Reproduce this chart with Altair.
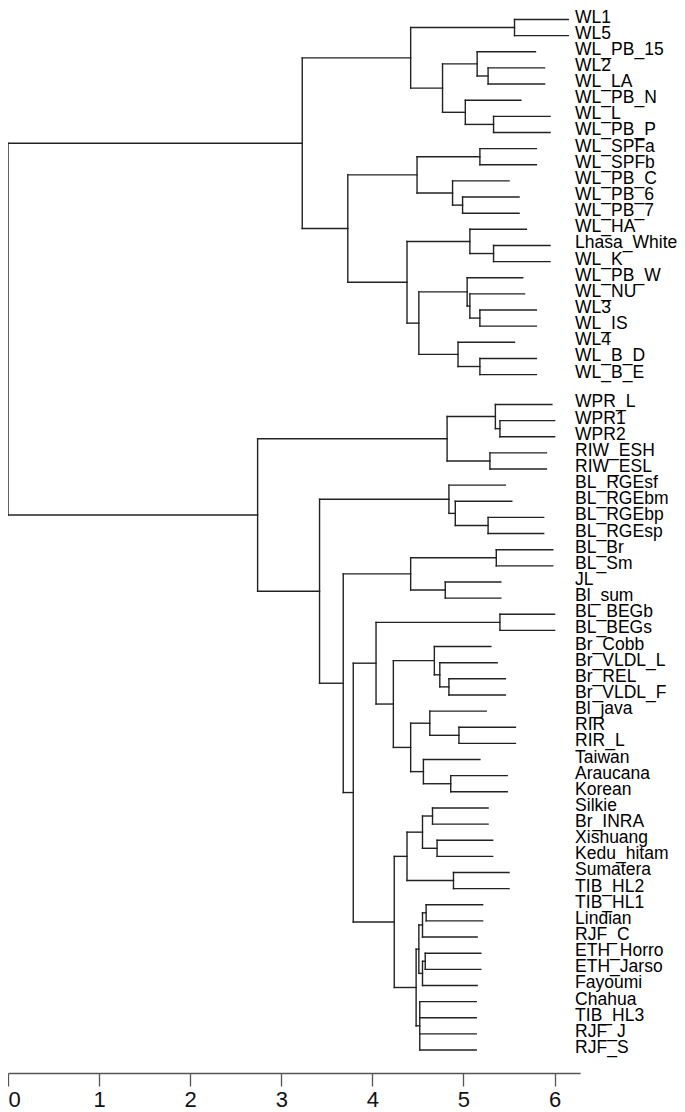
import altair as alt
import pandas as pd

# ---------------- data ----------------
leaf_names = [
    "WL1", "WL5", "WL_PB_15", "WL2", "WL_LA", "WL_PB_N", "WL_L", "WL_PB_P",
    "WL_SPFa", "WL_SPFb", "WL_PB_C", "WL_PB_6", "WL_PB_7", "WL_HA", "Lhasa_White",
    "WL_K", "WL_PB_W", "WL_NU", "WL3", "WL_IS", "WL4", "WL_B_D", "WL_B_E",
    "WPR_L", "WPR1", "WPR2", "RIW_ESH", "RIW_ESL", "BL_RGEsf", "BL_RGEbm",
    "BL_RGEbp", "BL_RGEsp", "BL_Br", "BL_Sm", "JL", "Bl_sum", "BL_BEGb", "BL_BEGs",
    "Br_Cobb", "Br_VLDL_L", "Br_REL", "Br_VLDL_F", "Bl_java", "RIR", "RIR_L",
    "Taiwan", "Araucana", "Korean", "Silkie", "Br_INRA", "Xishuang", "Kedu_hitam",
    "Sumatera", "TIB_HL2", "TIB_HL1", "Lindian", "RJF_C", "ETH_Horro", "ETH_Jarso",
    "Fayoumi", "Chahua", "TIB_HL3", "RJF_J", "RJF_S",
]
leaf_tips = [
    6.15, 6.15, 5.79, 5.89, 5.89, 5.63, 5.95, 5.95,
    5.80, 5.80, 5.50, 5.61, 5.61, 5.69, 5.95,
    5.95, 5.65, 5.67, 5.80, 5.80, 5.56, 5.80, 5.80,
    5.97, 6.00, 6.00, 5.91, 5.91, 5.46, 5.53,
    5.88, 5.88, 5.98, 5.98, 5.41, 5.41, 6.00, 6.00,
    5.30, 5.37, 5.46, 5.46, 5.25, 5.57, 5.57,
    5.18, 5.48, 5.48, 5.27, 5.27, 5.32, 5.32,
    5.50, 5.50, 5.21, 5.21, 5.15, 5.19, 5.19,
    5.15, 5.14, 5.14, 5.14, 5.14,
]
node_names = [
    "root", "A", "A1", "B1", "B2", "C1", "D1", "C2", "D2", "A2", "B3", "C3", "C4",
    "D3", "B4", "C5", "D4", "C6", "D5", "E1", "F1", "D6", "E2",
    "R2", "P1", "Q1", "Q1a", "Q2", "P2", "S1", "T1", "U1", "S2", "V1", "W1", "W2",
    "X2", "V2", "W3", "Z1", "Y1", "Y2", "Y3", "Z2", "Z2a", "Z2b", "Z3", "Z3b",
    "X3", "N1", "N2", "N3", "N4", "N5", "M1", "M2", "M3", "M4", "M5", "M6", "M7",
]
node_heights = [
    0.00, 3.23, 4.42, 5.56, 4.77, 5.15, 5.27, 5.02, 5.33, 3.73, 4.49, 5.18, 4.88,
    4.99, 4.38, 5.07, 5.33, 4.51, 5.04, 5.07, 5.18, 4.94, 5.18,
    2.74, 4.82, 5.35, 5.40, 5.29, 3.42, 4.84, 4.91, 5.27, 3.68, 4.42, 5.36, 4.80,
    3.79, 4.04, 5.40, 4.23, 4.68, 4.74, 4.84, 4.42, 4.63, 4.95, 4.56, 4.86,
    4.24, 4.38, 4.55, 4.66, 4.71, 4.89, 4.48, 4.51, 4.55, 4.59, 4.55, 4.58, 4.52,
]
node_children = [
    ["A", "R2"], ["A1", "A2"], ["B1", "B2"], ["WL1", "WL5"], ["C1", "C2"],
    ["WL_PB_15", "D1"], ["WL2", "WL_LA"], ["WL_PB_N", "D2"], ["WL_L", "WL_PB_P"],
    ["B3", "B4"], ["C3", "C4"], ["WL_SPFa", "WL_SPFb"], ["WL_PB_C", "D3"],
    ["WL_PB_6", "WL_PB_7"], ["C5", "C6"], ["WL_HA", "D4"], ["Lhasa_White", "WL_K"],
    ["D5", "D6"], ["WL_PB_W", "E1"], ["WL_NU", "F1"], ["WL3", "WL_IS"],
    ["WL4", "E2"], ["WL_B_D", "WL_B_E"],
    ["P1", "P2"], ["Q1", "Q2"], ["WPR_L", "Q1a"], ["WPR1", "WPR2"],
    ["RIW_ESH", "RIW_ESL"], ["S1", "S2"], ["BL_RGEsf", "T1"], ["BL_RGEbm", "U1"],
    ["BL_RGEbp", "BL_RGEsp"], ["V1", "X2"], ["W1", "W2"], ["BL_Br", "BL_Sm"],
    ["JL", "Bl_sum"], ["V2", "X3"], ["W3", "Z1"], ["BL_BEGb", "BL_BEGs"],
    ["Y1", "Z2"], ["Br_Cobb", "Y2"], ["Br_VLDL_L", "Y3"], ["Br_REL", "Br_VLDL_F"],
    ["Z2a", "Z3"], ["Bl_java", "Z2b"], ["RIR", "RIR_L"], ["Taiwan", "Z3b"],
    ["Araucana", "Korean"],
    ["N1", "M1"], ["N2", "N5"], ["N3", "N4"], ["Silkie", "Br_INRA"],
    ["Xishuang", "Kedu_hitam"], ["Sumatera", "TIB_HL2"],
    ["M2", "M7"], ["M3", "M5"], ["M4", "RJF_C"], ["TIB_HL1", "Lindian"],
    ["M6", "Fayoumi"], ["ETH_Horro", "ETH_Jarso"],
    ["Chahua", "TIB_HL3", "RJF_J", "RJF_S"],
]
x_ticks = [0, 1, 2, 3, 4, 5, 6]

# ---------------- layout of the tree ----------------
GAP_AFTER = 23   # a wider space separates the two main clades
GAP = 0.85

slot = {n: i + (GAP if i >= GAP_AFTER else 0) for i, n in enumerate(leaf_names)}
tip = dict(zip(leaf_names, leaf_tips))
height = dict(zip(node_names, node_heights))
kids = dict(zip(node_names, node_children))

ypos = {}


def place(n):
    if n in slot:
        ypos[n] = slot[n]
        return ypos[n]
    ys = [place(c) for c in kids[n]]
    ypos[n] = (ys[0] + ys[-1]) / 2.0
    return ypos[n]


place("root")

rows = []
for n in node_names:
    h = height[n]
    cs = kids[n]
    rows.append({"x": h, "x2": h, "y": ypos[cs[0]], "y2": ypos[cs[-1]]})
    for c in cs:
        end = tip[c] if c in tip else height[c]
        rows.append({"x": h, "x2": end, "y": ypos[c], "y2": ypos[c]})
seg = pd.DataFrame(rows)

labels = pd.DataFrame({"name": leaf_names, "y": [slot[n] for n in leaf_names]})
labels["lx"] = 6.225

# ---------------- chart ----------------
W = 572.1
H = 1065.0
PX_SLOT = 16.14
TOP = 11.5
y_dom = [-TOP / PX_SLOT, (H - TOP) / PX_SLOT]

xscale = alt.Scale(domain=[0, 6.28], nice=False, zero=False)
yscale = alt.Scale(domain=y_dom, nice=False, zero=False, reverse=True)

tree = alt.Chart(seg).mark_rule(
    color="#222222", strokeWidth=1.4, strokeCap="square"
).encode(
    x=alt.X("x:Q", scale=xscale, title=None,
            axis=alt.Axis(values=x_ticks, grid=False, format="d",
                          domainColor="#555555", domainWidth=1.3,
                          tickColor="#555555", tickWidth=1.3, tickSize=13,
                          labelFontSize=22, labelFont="Liberation Sans",
                          labelColor="#111111", labelPadding=3, labelFlush=1)),
    x2="x2:Q",
    y=alt.Y("y:Q", scale=yscale, axis=None),
    y2="y2:Q",
)

text = alt.Chart(labels).mark_text(
    align="left", baseline="middle", dy=-2, font="Liberation Sans",
    fontSize=17.5, color="#000000"
).encode(
    x=alt.X("lx:Q", scale=xscale),
    y=alt.Y("y:Q", scale=yscale, axis=None),
    text="name:N",
)

chart = alt.layer(tree, text).properties(
    width=W, height=H,
    autosize=alt.AutoSizeParams(type="none"),
    padding={"left": 0, "top": 0, "right": 96.9, "bottom": 46},
).configure_view(strokeWidth=0)

chart.save("out.html", embed_options={"renderer": "svg", "actions": False})
